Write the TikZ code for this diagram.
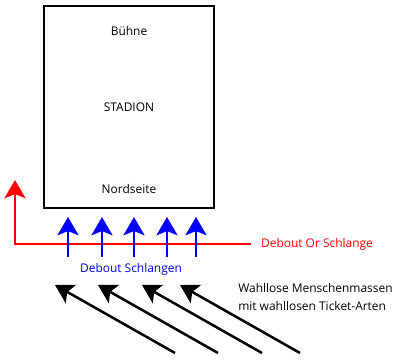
\documentclass[tikz,border=0pt]{standalone}
\usepackage{fontspec}
\setmainfont{Open Sans}
\usetikzlibrary{arrows.meta, positioning}

\begin{document}
\begin{tikzpicture}[
    x=0.025cm, y=-0.025cm,
    >={Stealth[length=13pt, width=15pt, inset=3pt]},
    txt/.style={font=\fontsize{8.5}{12.8}\selectfont, inner sep=0pt},
    stadium/.style={rectangle, draw, line width=1.4pt, minimum width=4.25cm, minimum height=5.05cm},
    orline/.style={draw, ->, red, line width=1.8pt},
    queue/.style={draw, ->, blue, line width=1.8pt},
    crowd/.style={draw, ->, black, line width=1.8pt}
]
    \useasboundingbox (0,0) rectangle (410,360);

    % the stadium with its three labels
    \node[stadium] (stadium) at (129,107) {};
    \node[txt, below=15pt of stadium.north] (stage) {Bühne};
    \node[txt] (name) at (stadium.center) {STADION};
    \node[txt, above=11pt of stadium.south] (north) {Nordseite};

    % the red queue line
    \node[txt, red, anchor=west, inner xsep=7pt] (orlabel) at (251,244) {Debout Or Schlange};
    \coordinate (orcorner) at (15,244);
    \coordinate (ortip) at (15,180);
    \path[orline] (orlabel.west) -- (orcorner) -- (ortip);

    % blue queues into the north side
    \foreach \x [count=\i] in {68,102,134,167,196} {
        \coordinate (qtail\i) at (\x,257);
        \coordinate (qtip\i) at (\x,217);
        \path[queue] (qtail\i) -- (qtip\i);
    }
    \node[txt, blue] (qlabel) at (131,269) {Debout Schlangen};

    % the crowd coming in from below right
    \foreach \x [count=\i] in {55,98,142,180} {
        \coordinate (ctip\i) at (\x,285);
        \coordinate (ctail\i) at (\x+120,353);
        \path[crowd] (ctail\i) -- (ctip\i);
    }
    \node[txt, align=left, anchor=west] (crowdlabel) at (238,297) {Wahllose Menschenmassen\\mit wahllosen Ticket-Arten};

\end{tikzpicture}
\end{document}
